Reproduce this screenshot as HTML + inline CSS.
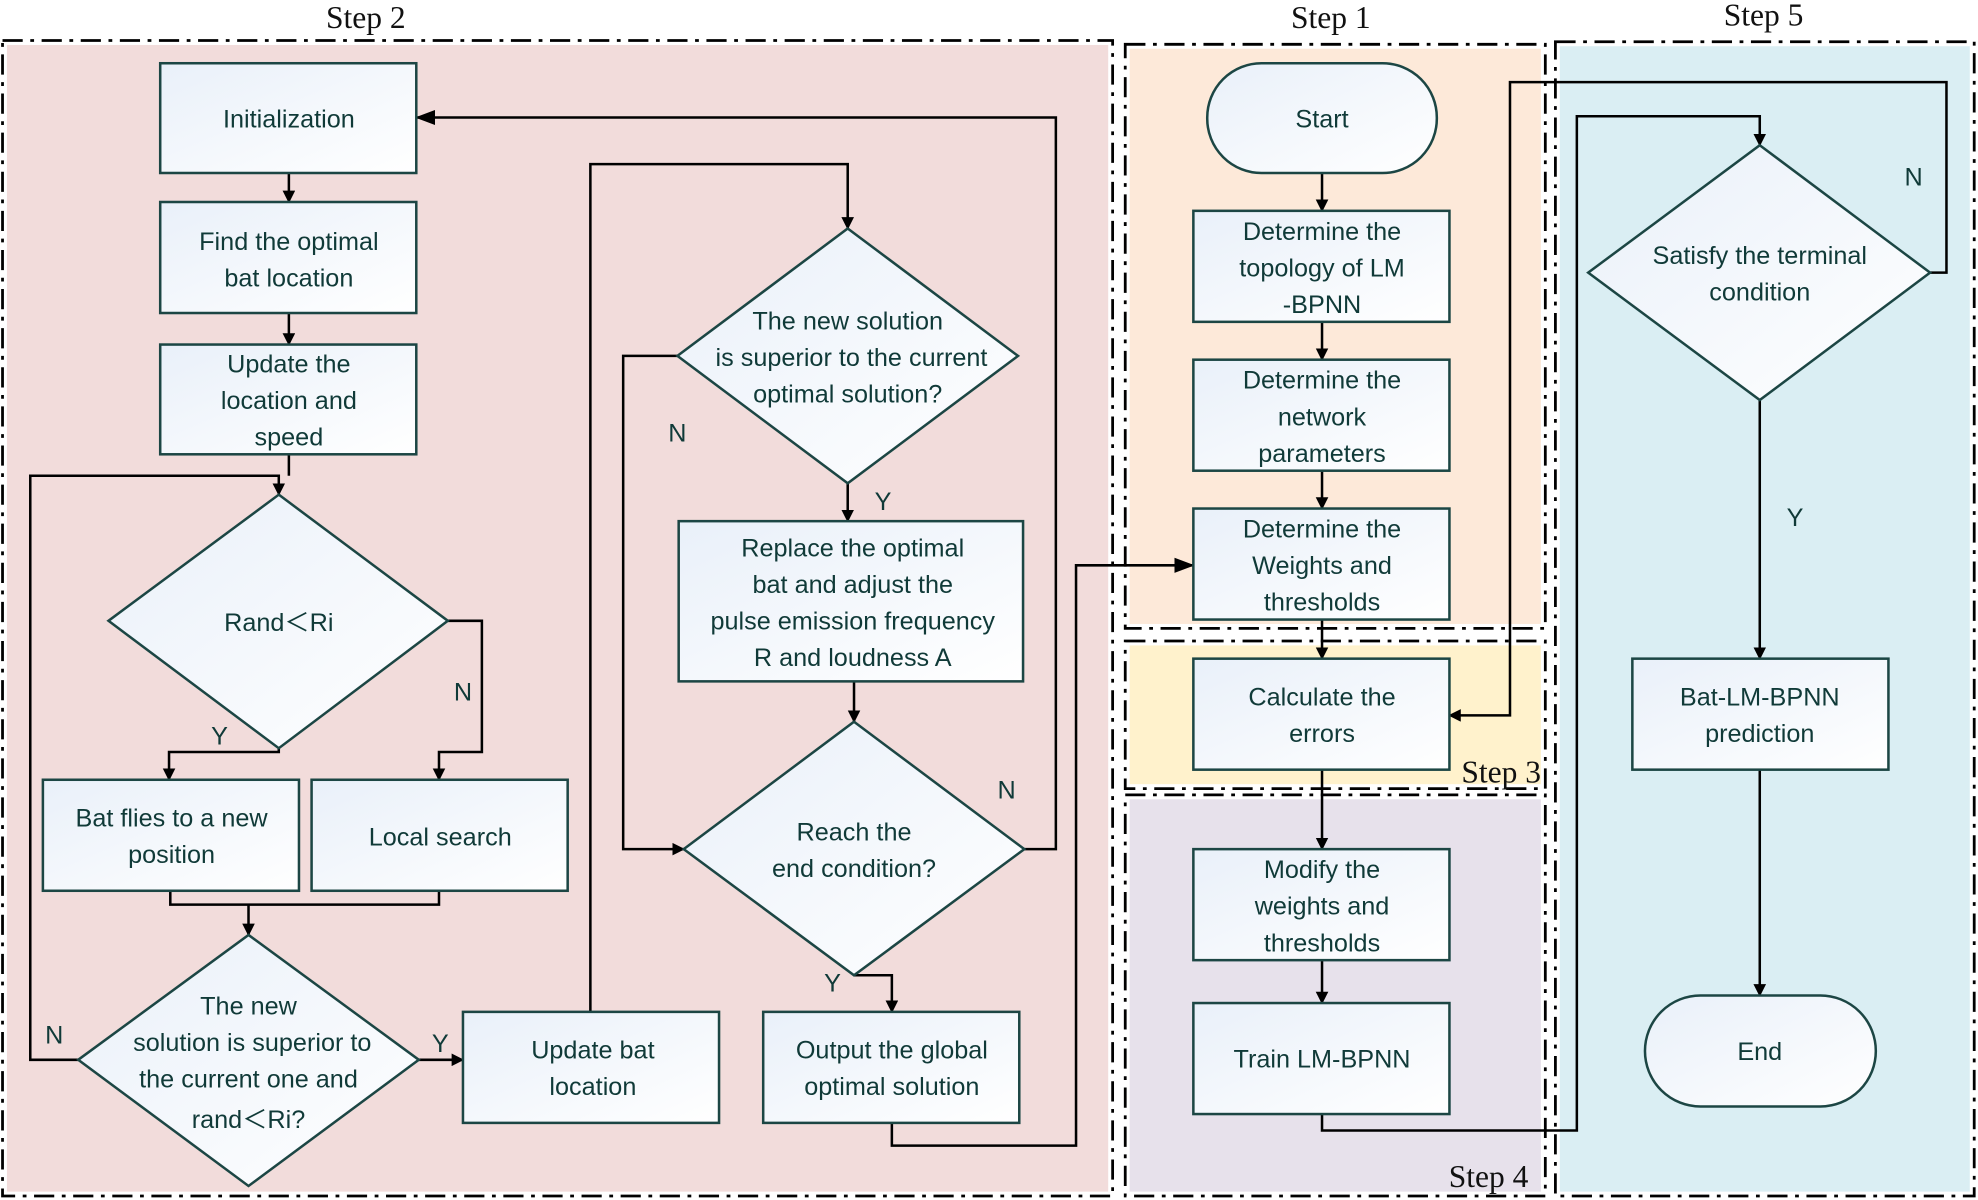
<!DOCTYPE html>
<html><head><meta charset="utf-8"><style>
html,body{margin:0;padding:0;background:#fff;}
svg{display:block;}
.t{font-family:"Liberation Sans",sans-serif;font-size:20px;fill:#103a38;text-anchor:middle;}
.s{font-family:"Liberation Serif",serif;font-size:25px;fill:#111;text-anchor:middle;}
.b{fill:url(#g);stroke:#1c4644;stroke-width:2;}
.c{fill:none;stroke:#000;stroke-width:2;}
.rw{fill:none;stroke:#fff;stroke-width:7;}
.rb{fill:none;stroke:#000;stroke-width:2.2;stroke-dasharray:16,6,3,6;}
</style></head><body>
<svg width="1978" height="1200" viewBox="0 0 1568 951" xmlns="http://www.w3.org/2000/svg">
<defs>
<linearGradient id="g" x1="0" y1="0" x2="1" y2="1"><stop offset="0" stop-color="#e9f0f9"/><stop offset="1" stop-color="#ffffff"/></linearGradient>
<marker id="a" markerWidth="10" markerHeight="10" refX="9" refY="5" orient="auto" markerUnits="userSpaceOnUse"><path d="M0,0 L10,5 L0,10 z" fill="#000"/></marker>
<marker id="a2" markerWidth="16" markerHeight="12" refX="15" refY="6" orient="auto" markerUnits="userSpaceOnUse"><path d="M0,0 L16,6 L0,12 z" fill="#000"/></marker>
</defs>
<!-- regions -->
<rect x="2" y="32" width="880" height="916" fill="#f2dcdb"/>
<rect x="892" y="35" width="333" height="463" fill="#fde9d9"/>
<rect x="892" y="508" width="333" height="117" fill="#fff2cc"/>
<rect x="892" y="630" width="333" height="318" fill="#e7e1eb"/>
<rect x="1233" y="33" width="332" height="915" fill="#daeef3"/>
<g>
<rect class="rw" x="2" y="32" width="880" height="916"/><rect class="rb" x="2" y="32" width="880" height="916"/>
<rect class="rw" x="892" y="35" width="333" height="463"/><rect class="rb" x="892" y="35" width="333" height="463"/>
<rect class="rw" x="892" y="508" width="333" height="117"/><rect class="rb" x="892" y="508" width="333" height="117"/>
<rect class="rw" x="892" y="630" width="333" height="318"/><rect class="rb" x="892" y="630" width="333" height="318"/>
<rect class="rw" x="1233" y="33" width="332" height="915"/><rect class="rb" x="1233" y="33" width="332" height="915"/>
</g>
<text class="s" x="290" y="22">Step 2</text>
<text class="s" x="1055" y="22">Step 1</text>
<text class="s" x="1398" y="20">Step 5</text>
<text class="s" x="1190" y="620">Step 3</text>
<text class="s" x="1180" y="941">Step 4</text>

<!-- connectors -->
<g class="c">
<path d="M229,137 V160" marker-end="url(#a)"/>
<path d="M229,248 V273" marker-end="url(#a)"/>
<path d="M229,360 V377"/>
<path d="M62,840 H24 V377 H221 V392" marker-end="url(#a)"/>
<path d="M221,593 V596 H134 V618" marker-end="url(#a)"/>
<path d="M355,492 H382 V596 H348 V618" marker-end="url(#a)"/>
<path d="M135,706 V717 H348 V706"/>
<path d="M197,717 V741" marker-end="url(#a)"/>
<path d="M332,840 H367" marker-end="url(#a)"/>
<path d="M468,802 V130 H672 V181" marker-end="url(#a)"/>
<path d="M537,282 H494 V673 H542" marker-end="url(#a)"/>
<path d="M672,383 V413" marker-end="url(#a)"/>
<path d="M677,540 V572" marker-end="url(#a)"/>
<path d="M812,673 H837 V93 H330" marker-end="url(#a2)"/>
<path d="M677,773 H707 V802" marker-end="url(#a)"/>
<path d="M707,890 V908 H853 V448 H946" marker-end="url(#a2)"/>
<path d="M1048,137 V167" marker-end="url(#a)"/>
<path d="M1048,255 V285" marker-end="url(#a)"/>
<path d="M1048,373 V403" marker-end="url(#a)"/>
<path d="M1048,491 V522" marker-end="url(#a)"/>
<path d="M1048,610 V673" marker-end="url(#a)"/>
<path d="M1048,761 V795" marker-end="url(#a)"/>
<path d="M1048,883 V896 H1250 V92 H1395 V115" marker-end="url(#a)"/>
<path d="M1530,216 H1543 V65 H1197 V567 H1149" marker-end="url(#a)"/>
<path d="M1395,317 V522" marker-end="url(#a)"/>
<path d="M1395,610 V789" marker-end="url(#a)"/>
</g>

<!-- nodes -->
<rect class="b" x="127" y="50" width="203" height="87"/>
<text class="t" x="229" y="101">Initialization</text>
<rect class="b" x="127" y="160" width="203" height="88"/>
<text class="t" x="229" y="198">Find the optimal</text><text class="t" x="229" y="227">bat location</text>
<rect class="b" x="127" y="273" width="203" height="87"/>
<text class="t" x="229" y="295">Update the</text><text class="t" x="229" y="324">location and</text><text class="t" x="229" y="353">speed</text>
<polygon class="b" points="221,392 355,492 221,593 86,492"/>
<text class="t" x="221" y="500">Rand＜Ri</text>
<rect class="b" x="34" y="618" width="203" height="88"/>
<text class="t" x="136" y="655">Bat flies to a new</text><text class="t" x="136" y="684">position</text>
<rect class="b" x="247" y="618" width="203" height="88"/>
<text class="t" x="349" y="670">Local search</text>
<polygon class="b" points="197,741 332,840 197,940 62,840"/>
<text class="t" x="197" y="804">The new</text><text class="t" x="200" y="833">solution is superior to</text><text class="t" x="197" y="862">the current one and</text><text class="t" x="197" y="894">rand＜Ri?</text>
<rect class="b" x="367" y="802" width="203" height="88"/>
<text class="t" x="470" y="839">Update bat</text><text class="t" x="470" y="868">location</text>
<polygon class="b" points="672,181 807,282 672,383 537,282"/>
<text class="t" x="672" y="261">The new solution</text><text class="t" x="675" y="290">is superior to the current</text><text class="t" x="672" y="319">optimal solution?</text>
<rect class="b" x="538" y="413" width="273" height="127"/>
<text class="t" x="676" y="441">Replace the optimal</text><text class="t" x="676" y="470">bat and adjust the</text><text class="t" x="676" y="499">pulse emission frequency</text><text class="t" x="676" y="528">R and loudness A</text>
<polygon class="b" points="677,572 812,673 677,773 542,673"/>
<text class="t" x="677" y="666">Reach the</text><text class="t" x="677" y="695">end condition?</text>
<rect class="b" x="605" y="802" width="203" height="88"/>
<text class="t" x="707" y="839">Output the global</text><text class="t" x="707" y="868">optimal solution</text>
<rect class="b" x="957" y="50" width="182" height="87" rx="43"/>
<text class="t" x="1048" y="101">Start</text>
<rect class="b" x="946" y="167" width="203" height="88"/>
<text class="t" x="1048" y="190">Determine the</text><text class="t" x="1048" y="219">topology of LM</text><text class="t" x="1048" y="248">-BPNN</text>
<rect class="b" x="946" y="285" width="203" height="88"/>
<text class="t" x="1048" y="308">Determine the</text><text class="t" x="1048" y="337">network</text><text class="t" x="1048" y="366">parameters</text>
<rect class="b" x="946" y="403" width="203" height="88"/>
<text class="t" x="1048" y="426">Determine the</text><text class="t" x="1048" y="455">Weights and</text><text class="t" x="1048" y="484">thresholds</text>
<rect class="b" x="946" y="522" width="203" height="88"/>
<text class="t" x="1048" y="559">Calculate the</text><text class="t" x="1048" y="588">errors</text>
<rect class="b" x="946" y="673" width="203" height="88"/>
<text class="t" x="1048" y="696">Modify the</text><text class="t" x="1048" y="725">weights and</text><text class="t" x="1048" y="754">thresholds</text>
<rect class="b" x="946" y="795" width="203" height="88"/>
<text class="t" x="1048" y="846">Train LM-BPNN</text>
<polygon class="b" points="1395,115 1530,216 1395,317 1259,216"/>
<text class="t" x="1395" y="209">Satisfy the terminal</text><text class="t" x="1395" y="238">condition</text>
<rect class="b" x="1294" y="522" width="203" height="88"/>
<text class="t" x="1395" y="559">Bat-LM-BPNN</text><text class="t" x="1395" y="588">prediction</text>
<rect class="b" x="1304" y="789" width="183" height="88" rx="44"/>
<text class="t" x="1395" y="840">End</text>

<!-- labels -->
<text class="t" x="174" y="590">Y</text>
<text class="t" x="367" y="555">N</text>
<text class="t" x="43" y="827">N</text>
<text class="t" x="349" y="834">Y</text>
<text class="t" x="537" y="350">N</text>
<text class="t" x="700" y="404">Y</text>
<text class="t" x="798" y="633">N</text>
<text class="t" x="660" y="786">Y</text>
<text class="t" x="1517" y="147">N</text>
<text class="t" x="1423" y="417">Y</text>
</svg>
</body></html>
